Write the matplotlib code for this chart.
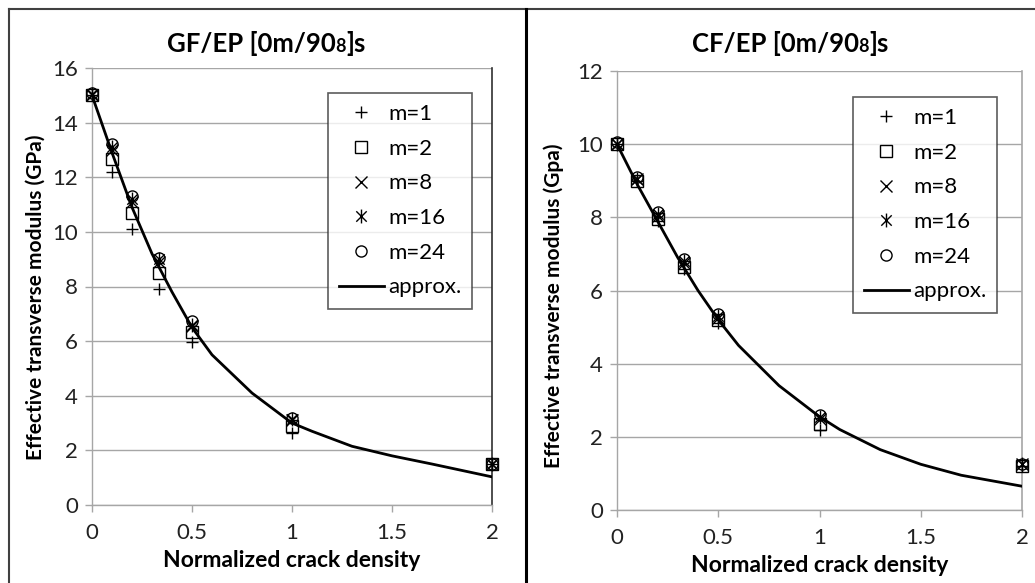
import matplotlib
matplotlib.use("Agg")
import matplotlib.pyplot as plt
from matplotlib.path import Path
from matplotlib.offsetbox import TextArea, HPacker, AnnotationBbox
from matplotlib.lines import Line2D

plt.rcParams['font.family'] = ['Lato', 'DejaVu Sans']

# ---------------- data ----------------
crack_density = [0.0, 0.1, 0.2, 0.333, 0.5, 1.0, 2.0]
series_labels = ["m=1", "m=2", "m=8", "m=16", "m=24"]

gf_m1 = [15.0, 12.2, 10.1, 7.9, 5.95, 2.65, 1.5]
gf_m2 = [15.0, 12.65, 10.7, 8.5, 6.35, 2.9, 1.5]
gf_m8 = [15.0, 13.0, 11.1, 8.9, 6.55, 3.1, 1.5]
gf_m16 = [15.05, 13.1, 11.2, 9.0, 6.6, 3.15, 1.5]
gf_m24 = [15.1, 13.2, 11.3, 9.05, 6.75, 3.2, 1.5]

cf_m1 = [10.0, 9.0, 7.9, 6.6, 5.1, 2.2, 1.2]
cf_m2 = [10.0, 9.0, 7.95, 6.65, 5.2, 2.35, 1.2]
cf_m8 = [10.0, 9.05, 8.05, 6.75, 5.25, 2.5, 1.25]
cf_m16 = [10.0, 9.05, 8.1, 6.8, 5.3, 2.55, 1.25]
cf_m24 = [10.05, 9.1, 8.15, 6.85, 5.35, 2.6, 1.25]

approx_x = [0.0, 0.1, 0.2, 0.3, 0.4, 0.5, 0.6, 0.8, 1.0, 1.1, 1.3, 1.5, 1.7, 2.0]
gf_approx = [15.0, 12.9, 10.9, 9.2, 7.8, 6.5, 5.5, 4.1, 3.0, 2.7, 2.15, 1.8, 1.5, 1.03]
cf_approx = [10.0, 8.9, 7.9, 6.9, 6.0, 5.2, 4.5, 3.4, 2.55, 2.2, 1.65, 1.25, 0.95, 0.65]

x_ticks = [0, 0.5, 1, 1.5, 2]
x_tick_labels = ["0", "0.5", "1", "1.5", "2"]
gf_y_ticks = [0, 2, 4, 6, 8, 10, 12, 14, 16]
cf_y_ticks = [0, 2, 4, 6, 8, 10, 12]

# ---------------- style ----------------
asterisk = Path([(0, -1), (0, 1), (-0.75, -0.75), (0.75, 0.75), (-0.75, 0.75), (0.75, -0.75)],
                [Path.MOVETO, Path.LINETO, Path.MOVETO, Path.LINETO, Path.MOVETO, Path.LINETO])
marker_styles = [
    dict(marker='+', ms=9, mew=1.0),
    dict(marker='s', ms=8, mew=1.0),
    dict(marker='x', ms=8, mew=1.0),
    dict(marker=asterisk, ms=10, mew=1.0),
    dict(marker='o', ms=8, mew=1.0),
]
grid_c = '#a6a6a6'
TICK_FS = 16
XLABEL_FS = 16.5
YLABEL_FS = 15
TITLE_FS = 18.5
LEG_FS = 16

fig = plt.figure(figsize=(10.35, 5.83), dpi=100)
W, H = 1035, 583


def px_axes(l, r, t, b):
    return fig.add_axes([l / W, 1 - b / H, (r - l) / W, (b - t) / H])


def make_panel(ax, series, approx, yticks, ylabel, ylabel_y, title_main, title_x, leg_box,
               right_spine_c):
    for vals, st, lab in zip(series, marker_styles, series_labels):
        ax.plot(crack_density, vals, linestyle='none', color='black',
                mfc='none', mec='black', label=lab, clip_on=False, zorder=4, **st)
    ax.plot(approx_x, approx, color='black', lw=2.0, label='approx.', zorder=3)
    ax.set_xlim(0, 2)
    ax.set_ylim(yticks[0], yticks[-1])
    ax.set_xticks(x_ticks)
    ax.set_xticklabels(x_tick_labels)
    ax.set_yticks(yticks)
    ax.yaxis.grid(True, color=grid_c, lw=1.0)
    ax.set_axisbelow(True)
    ax.tick_params(direction='out', length=5, width=1, color=grid_c,
                   labelsize=TICK_FS, labelcolor='#222222')
    ax.tick_params(axis='x', pad=8)
    ax.tick_params(axis='y', pad=5)
    for s in ['left', 'bottom']:
        ax.spines[s].set_color(grid_c)
        ax.spines[s].set_linewidth(1.0)
    ax.spines['top'].set_visible(False)
    ax.spines['right'].set_color(right_spine_c)
    ax.spines['right'].set_linewidth(1.2)
    ax.set_xlabel("Normalized crack density", fontsize=XLABEL_FS, fontweight='bold', labelpad=5)
    ax.set_ylabel(ylabel, fontsize=YLABEL_FS, fontweight='bold', labelpad=6)
    ax.yaxis.set_label_coords(ax.yaxis.label.get_position()[0], ylabel_y)
    leg = ax.legend(loc='upper left', bbox_to_anchor=leg_box, fontsize=LEG_FS,
                    frameon=True, fancybox=False, edgecolor='#333333',
                    handlelength=2.0, handletextpad=0.2, labelspacing=0.66,
                    borderpad=0.5, borderaxespad=0)
    leg.get_frame().set_linewidth(1.2)
    # title with small "8"
    parts = [TextArea(title_main, textprops=dict(fontsize=TITLE_FS, fontweight='bold')),
             TextArea("8", textprops=dict(fontsize=13, fontweight='bold')),
             TextArea("]s", textprops=dict(fontsize=TITLE_FS, fontweight='bold'))]
    box = HPacker(children=parts, align='baseline', pad=0, sep=0)
    ab = AnnotationBbox(box, (title_x / W, 1 - 44 / H), xycoords='figure fraction',
                        frameon=False, box_alignment=(0.5, 0.5))
    fig.add_artist(ab)


ax1 = px_axes(92, 492, 68, 505)
make_panel(ax1, [gf_m1, gf_m2, gf_m8, gf_m16, gf_m24], gf_approx, gf_y_ticks,
           "Effective transverse modulus (GPa)", 0.476, "GF/EP [0m/90", 266,
           ((328 - 92) / 400, 1 - (93 - 68) / 437), '#303030')

ax2 = px_axes(617, 1022, 71, 510)
make_panel(ax2, [cf_m1, cf_m2, cf_m8, cf_m16, cf_m24], cf_approx, cf_y_ticks,
           "Effective transverse modulus (Gpa)", 0.465, "CF/EP [0m/90", 790,
           ((853 - 617) / 405, 1 - (97 - 71) / 439), grid_c)

# set y-label x positions in pixels
for ax, xpx, l in [(ax1, 36, 92), (ax2, 554, 617)]:
    w = ax.get_position().width * W
    ax.yaxis.set_label_coords((xpx - l) / w, ax.yaxis.label.get_position()[1])
    ax.yaxis.label.set_va('center')

# outer frame lines
fig.add_artist(Line2D([9 / W, 9 / W], [0, 1 - 9 / H], color='#404040', lw=1.5))
fig.add_artist(Line2D([9 / W, 1], [1 - 9 / H, 1 - 9 / H], color='#404040', lw=1.5))
fig.add_artist(Line2D([526 / W, 526 / W], [0, 1 - 9 / H], color='black', lw=2.2))

fig.savefig("out.png", dpi=100)
